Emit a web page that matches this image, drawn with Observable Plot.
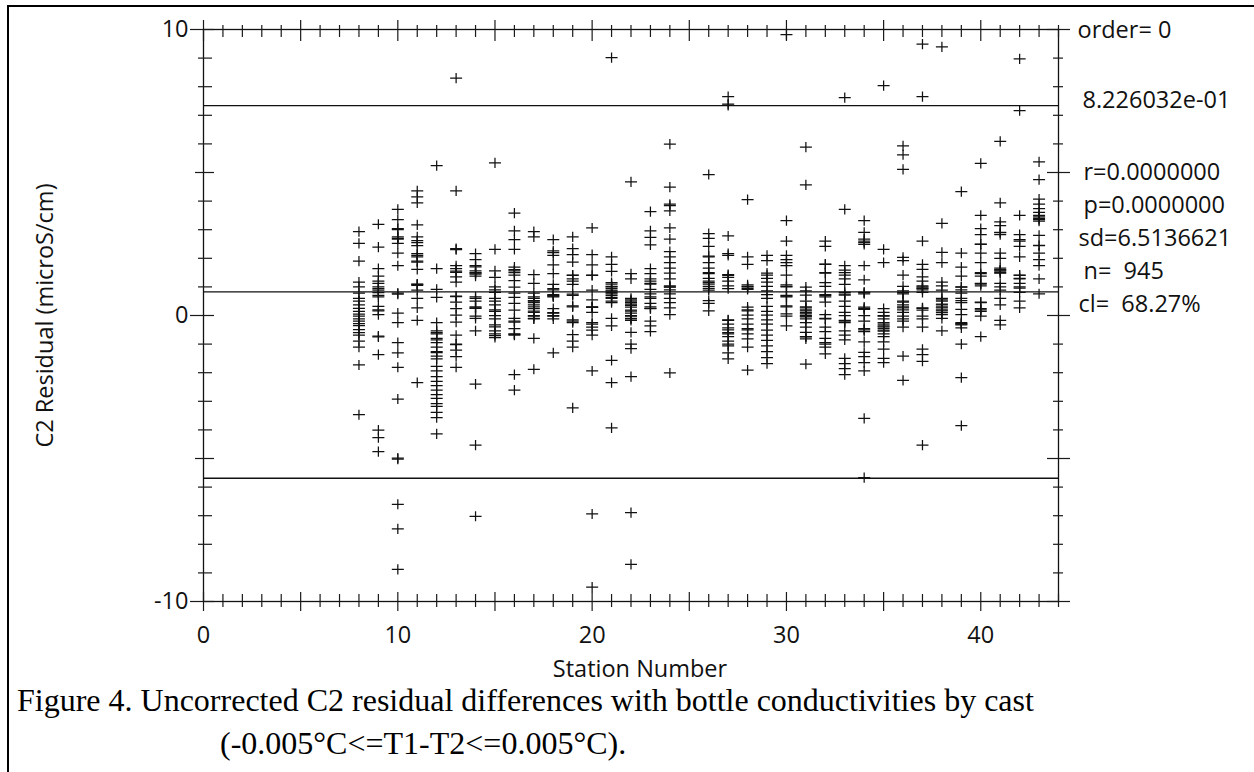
<!DOCTYPE html>
<html>
<head>
<meta charset="utf-8">
<script src="https://cdn.jsdelivr.net/npm/d3@7"></script>
<script src="https://cdn.jsdelivr.net/npm/@observablehq/plot@0.6"></script>
<style>
  html, body { margin: 0; padding: 0; background: #fff; }
  body { width: 1254px; height: 772px; overflow: hidden; position: relative; font-family: "Open Sans", sans-serif; }
  #frame { position: absolute; left: 7px; top: 5px; width: 1270px; height: 800px; border: 2.5px solid #000; box-sizing: border-box; z-index: 0; }
  #chart { position: absolute; left: 0; top: 0; z-index: 1; }
  #caption { position: absolute; left: 17px; top: 679px; z-index: 2; font-family: "Liberation Serif", "Times New Roman", serif; font-size: 32px; line-height: 43px; color: #000; white-space: nowrap; }
  #caption .l2 { padding-left: 203px; }
</style>
</head>
<body>
<div id="frame"></div>
<div id="chart"></div>
<div id="caption">Figure 4. Uncorrected C2 residual differences with bottle conductivities by cast<br><span class="l2">(-0.005°C&lt;=T1-T2&lt;=0.005°C).</span></div>
<script>
// ---------- data ----------
const stations = [8,9,10,11,12,13,14,15,16,17,18,19,20,21,22,23,24,26,27,28,29,30,31,32,33,34,35,36,37,38,39,40,41,42,43];
const residualsByStation = [
  [2.93,2.52,1.90,1.17,0.78,0.60,0.37,0.14,-0.02,-0.12,-0.28,-0.49,-0.69,-0.90,-1.11,-1.73,-3.47,0.05,-0.20,0.50,-0.60,1.00,0.25,-0.35],
  [3.19,2.39,1.64,1.38,1.12,0.94,0.89,0.65,0.32,0.16,0.03,-0.72,-1.37,-4.01,-4.27,-4.76,0.80,1.00,0.70,0.20,-0.75,1.20],
  [3.71,3.35,3.04,2.75,2.67,2.52,2.18,1.74,0.78,0.08,-0.25,-0.95,-1.31,-1.81,-2.92,-4.99,-6.60,-7.46,-8.88,-5.02,0.75,2.70,3.00],
  [4.36,4.15,3.94,3.17,2.75,2.62,2.44,2.16,2.05,1.87,1.61,1.09,0.89,0.60,0.27,-0.17,-2.35,2.55,2.10,1.10,1.90,1.05],
  [5.24,1.64,0.91,0.63,-0.25,-0.54,-0.64,-0.80,-0.95,-1.11,-1.26,-1.42,-1.52,-1.78,-1.94,-2.14,-2.30,-2.45,-2.61,-2.77,-2.90,-3.08,-3.18,-3.39,-3.57,-4.14,-0.60,-0.85,-1.30],
  [8.30,4.36,2.34,1.74,1.64,1.51,1.35,1.17,0.68,0.47,0.24,0.01,-0.23,-0.69,-1.00,-1.21,-1.44,-1.81,0.66,-1.02,2.30,1.55],
  [2.16,1.95,1.74,1.56,1.48,1.38,0.65,0.50,0.27,-0.02,-0.54,-2.40,-4.53,-7.02,1.50,1.45,0.30,0.25,0.60,1.70,-0.10],
  [5.34,2.31,1.56,1.33,0.81,0.60,0.37,0.14,-0.12,-0.33,-0.54,-0.64,-0.77,0.50,0.20,-0.40,0.90,-0.70,0.00,1.00],
  [3.58,2.96,2.65,2.31,1.69,1.56,1.41,1.22,0.99,0.78,0.63,0.42,0.19,-0.10,-0.23,-0.46,-0.64,-0.69,-2.07,-2.61,1.60,1.50,-0.66,-0.20],
  [2.93,2.75,1.43,1.12,0.78,0.65,0.52,0.37,0.24,0.11,-0.02,-0.12,-0.80,-1.88,0.60,0.45,0.30,0.00,-0.10,0.50,0.15],
  [2.65,2.26,2.10,1.77,1.46,1.09,0.94,0.73,0.65,0.24,0.08,-0.02,-0.12,-1.31,0.70,0.68,2.20,0.90,0.10,0.00],
  [2.75,2.34,2.13,1.87,1.41,1.28,1.09,0.75,0.34,-0.15,-0.25,-0.67,-0.90,-1.11,-3.23,0.30,1.40,-0.20,0.70,1.20],
  [3.06,2.13,1.77,1.41,0.89,0.55,0.29,0.11,-0.25,-0.41,-0.51,-0.69,-1.94,-6.94,-9.50,1.40,0.30,0.28,-0.30],
  [9.02,2.05,1.79,1.54,1.15,1.02,0.89,0.76,0.63,0.45,-0.10,-0.36,-1.57,-2.35,-3.93,0.95,0.85,0.70,0.80,1.10,0.60,0.50,1.00],
  [4.67,1.46,1.28,0.60,0.50,0.40,0.29,0.19,0.08,-0.02,-0.12,-0.17,-0.59,-1.00,-1.16,-2.14,-6.89,-8.70,0.55,0.35,0.15,0.00,-0.10,0.45],
  [3.63,2.96,2.73,2.47,1.64,1.46,1.28,1.12,0.91,0.76,0.60,0.42,0.24,-0.20,-0.36,-0.56,1.10,1.20,0.30,0.25,0.65],
  [5.99,4.49,3.89,3.84,3.66,3.06,2.67,2.23,2.05,1.85,1.66,1.48,1.28,1.04,0.99,0.76,0.60,0.45,0.27,0.03,-2.01,0.90,1.00],
  [4.93,2.86,2.70,2.42,2.08,1.85,1.66,1.46,1.30,1.15,1.02,0.89,0.52,0.42,0.16,2.05,1.10,1.20,0.95,1.50],
  [7.65,7.39,2.78,2.16,2.10,1.43,1.33,1.20,1.04,0.94,-0.17,-0.30,-0.43,-0.64,-0.74,-1.00,-1.06,-1.31,-1.52,7.35,-0.50,-0.90,1.40,-0.15,-0.60],
  [4.05,2.05,1.79,1.07,1.02,0.91,0.29,0.16,0.01,-0.12,-0.30,-0.46,-0.64,-0.82,-1.11,-1.91,0.95,0.20,-0.50,1.00],
  [2.10,1.92,1.48,1.41,1.30,1.17,1.02,0.86,0.73,0.60,0.32,0.14,0.01,-0.15,-0.30,-0.51,-0.69,-0.87,-1.06,-1.26,-1.47,-1.68],
  [9.82,3.32,2.60,2.10,1.95,1.85,1.74,1.41,1.07,1.02,0.68,0.34,0.06,-0.02,-0.36,0.70,0.65,1.00,0.30],
  [5.89,4.57,0.99,0.86,0.71,0.50,0.27,0.16,0.06,-0.02,-0.12,-0.25,-0.41,-0.59,-0.74,-0.82,-1.70,0.20,0.10,0.00,-0.05,0.30,-0.75],
  [2.60,2.42,1.79,1.48,1.15,1.02,0.73,0.65,0.47,0.03,-0.12,-0.41,-0.56,-0.80,-1.00,-1.11,-1.34,1.80,0.70,-0.10,-0.95,1.50],
  [7.62,3.71,1.74,1.59,1.41,1.28,1.09,0.81,0.71,0.50,0.32,0.11,-0.17,-0.25,-0.54,-0.69,-0.85,-1.50,-1.68,-1.86,-2.07,0.75,-0.20,1.50,0.00],
  [3.32,2.91,2.67,2.60,2.49,1.74,1.25,0.81,0.76,0.29,0.21,-0.46,-0.56,-0.92,-1.29,-1.44,-1.65,-1.94,-3.60,-5.67,0.80,0.25,-0.50,0.00,-0.20,2.55],
  [8.04,2.31,1.85,0.24,0.11,-0.02,-0.12,-0.25,-0.36,-0.51,-0.64,-0.74,-0.92,-1.18,-1.50,-1.65,-0.30,-0.40,-0.55,-0.45,0.00],
  [5.93,5.62,5.11,2.03,1.92,1.41,1.02,0.86,0.76,0.47,0.37,0.27,0.11,-0.02,-0.12,-0.41,-1.42,-2.27,0.30,0.20,0.80,-0.20,0.50],
  [9.49,7.65,2.60,1.79,1.61,1.35,1.20,1.04,0.96,0.81,0.27,0.19,-0.02,-0.12,-0.41,-1.18,-1.37,-1.60,-4.53,0.95,1.00,0.25,0.90],
  [9.39,3.22,2.21,1.85,1.17,1.04,0.89,0.60,0.50,0.37,0.27,0.16,0.03,-0.10,-0.54,0.40,0.30,0.20,0.55,0.10],
  [4.33,2.18,1.69,1.38,0.99,0.78,0.52,0.45,0.21,0.03,-0.25,-0.33,-0.43,-1.00,-2.17,-3.85,-0.30,-0.28,0.90,1.00,0.60],
  [5.32,3.50,3.04,2.83,2.49,2.18,1.85,1.46,1.38,1.12,1.04,0.47,0.24,0.14,-0.02,-0.74,1.10,1.50,0.20,2.50,0.45],
  [6.09,3.94,3.27,3.14,2.91,2.83,2.18,2.00,1.66,1.59,1.48,1.12,0.89,0.60,0.37,-0.17,-0.33,1.60,1.55,1.50,2.90,1.00],
  [8.97,7.16,3.50,2.83,2.65,2.42,2.05,1.41,1.28,1.12,0.96,0.81,0.27,2.60,1.40,1.30,0.50,1.00],
  [5.37,4.75,4.07,3.89,3.74,3.61,3.45,3.30,2.80,2.44,2.18,1.95,1.74,1.28,0.76,3.50,3.40,2.45,3.35]
];
const meanResidual = 0.8226032;
const sdResidual = 6.5136621;
const statLabels = ["order= 0", "8.226032e-01", "r=0.0000000", "p=0.0000000", "sd=6.5136621", "n=  945", "cl=  68.27%"];
const xLabelTicks = [0, 10, 20, 30, 40];
const yLabelTicks = [-10, 0, 10];
const xDomain = [0, 44];
const yDomain = [-10, 10];

// ---------- layout ----------
const W = 1254, H = 690;
const plotLeft = 203, plotRight = 1058, plotTop = 29, plotBottom = 601;
const kx = (plotRight - plotLeft) / (xDomain[1] - xDomain[0]);   // px per station
const ky = (plotBottom - plotTop) / (yDomain[1] - yDomain[0]);   // px per unit

const points = stations.flatMap((s, i) => residualsByStation[i].map(v => ({station: s, value: v})));
const refLevels = [meanResidual + sdResidual, meanResidual, meanResidual - sdResidual];

const xTicksAll = d3.range(xDomain[0], xDomain[1] + 1);
const xMajor = xTicksAll.filter(d => d % 5 === 0);
const xMinor = xTicksAll.filter(d => d % 5 !== 0);
const yTicksAll = d3.range(yDomain[0], yDomain[1] + 1);
const yLab = yTicksAll.filter(d => d % 10 === 0);
const yMid = yTicksAll.filter(d => d % 5 === 0 && d % 10 !== 0);
const yMajor = yTicksAll.filter(d => d % 5 === 0);
const yMinor = yTicksAll.filter(d => d % 5 !== 0);

const cross = {
  draw(context, size) {
    const r = Math.sqrt(size / Math.PI);
    context.moveTo(-r, 0); context.lineTo(r, 0);
    context.moveTo(0, -r * 0.85); context.lineTo(0, r * 0.85);
  }
};

const tickStyle = {stroke: "#1a1a1a", strokeWidth: 1.2};
const vTicks = (data, edge, up, down) => Plot.ruleX(data, {x: d => d, y1: edge + up / ky, y2: edge - down / ky, ...tickStyle});
const hTicks = (data, edge, lft, rgt) => Plot.ruleY(data, {y: d => d, x1: edge - lft / kx, x2: edge + rgt / kx, ...tickStyle});

const textFont = {fontFamily: "Open Sans", fontSize: 23.5, fill: "#111"};
const statText = (label, dx, dy) => Plot.text([label], {text: d => d, frameAnchor: "top-right", textAnchor: "start", lineAnchor: "middle", dx, dy, ...textFont});

const chart = Plot.plot({
  width: W,
  height: H,
  marginLeft: plotLeft,
  marginRight: W - plotRight,
  marginTop: plotTop,
  marginBottom: H - plotBottom,
  x: {domain: xDomain, axis: null},
  y: {domain: yDomain, axis: null},
  style: {background: "transparent", fontFamily: "Open Sans", fontSize: "23.5px", color: "#111"},
  marks: [
    Plot.ruleY(refLevels, {stroke: "#111", strokeWidth: 1.3}),
    Plot.frame({stroke: "#111", strokeWidth: 1.3}),
    vTicks(xMinor, yDomain[1], 4, 8),
    vTicks(xMajor, yDomain[1], 9, 12),
    vTicks(xMinor, yDomain[0], 7, 6),
    vTicks(xMajor, yDomain[0], 9, 10),
    hTicks(yMinor, xDomain[0], 5, 9),
    hTicks(yMid, xDomain[0], 8, 11),
    hTicks(yLab, xDomain[0], 13, 11),
    hTicks(yMinor, xDomain[1], 5, 5),
    hTicks(yMajor, xDomain[1], 11, 12),
    Plot.dot(points, {x: "station", y: "value", symbol: cross, r: 6, fill: "none", stroke: "#111", strokeWidth: 1.25}),
    Plot.axisX({anchor: "bottom", ticks: xLabelTicks, tickSize: 0, tickPadding: 25, label: null, tickFormat: d => String(d), ...textFont}),
    Plot.axisY({anchor: "left", ticks: yLabelTicks, tickSize: 0, tickPadding: 15, label: null, tickFormat: d => String(d), ...textFont}),
    Plot.text(["C2 Residual (microS/cm)"], {text: d => d, frameAnchor: "left", textAnchor: "middle", lineAnchor: "middle", rotate: -90, dx: -158, ...textFont}),
    Plot.text(["Station Number"], {text: d => d, frameAnchor: "bottom", textAnchor: "middle", lineAnchor: "middle", dx: 9, dy: 68, ...textFont}),
    statText(statLabels[0], 19, 1),
    statText(statLabels[1], 24, 71),
    statText(statLabels[2], 25, 143),
    statText(statLabels[3], 25, 176),
    statText(statLabels[4], 20, 209),
    statText(statLabels[5], 25, 242),
    statText(statLabels[6], 20, 275)
  ]
});
document.getElementById("chart").appendChild(chart);
</script>
</body>
</html>
